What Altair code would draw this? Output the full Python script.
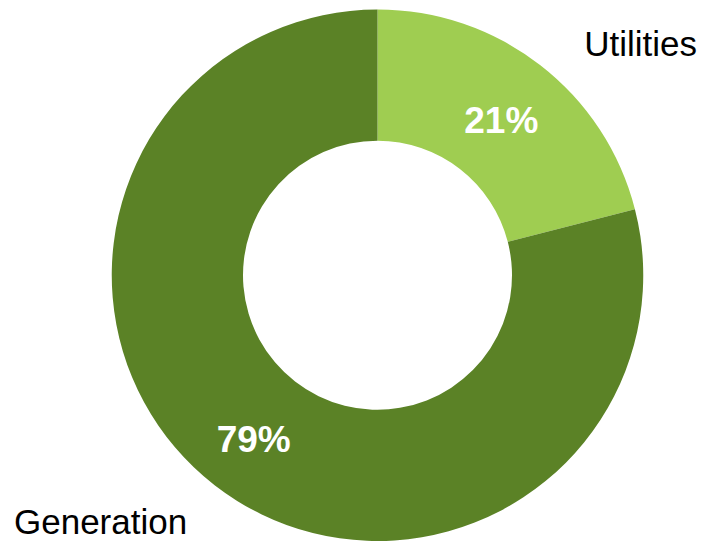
import altair as alt
import pandas as pd

categories = ["Utilities", "Generation"]
shares = [21, 79]
labels = ["21%", "79%"]
orders = [0, 1]
colors = ["#9FCD51", "#5B8226"]

df = pd.DataFrame({"category": categories, "share": shares, "label": labels, "ord": orders})

CX, CY = 369.5, 267.25

base = alt.Chart(df).encode(
    theta=alt.Theta("share:Q", stack=True),
    order=alt.Order("ord:Q"),
    x=alt.value(CX),
    y=alt.value(CY),
)

arcs = base.mark_arc(outerRadius=265.75, innerRadius=134.5).encode(
    color=alt.Color("category:N", scale=alt.Scale(domain=categories, range=colors), legend=None)
)

pct = base.mark_text(radius=202, dy=6, font="Liberation Sans", fontSize=37, fontWeight="bold",
                     color="white", align="center", baseline="middle").encode(
    text="label:N"
)

lab_util = alt.Chart(pd.DataFrame({"t": [categories[0]]})).mark_text(
    font="Liberation Sans", fontSize=35, color="black", align="right", baseline="alphabetic"
).encode(text="t:N", x=alt.value(689), y=alt.value(48))

lab_gen = alt.Chart(pd.DataFrame({"t": [categories[1]]})).mark_text(
    font="Liberation Sans", fontSize=35, color="black", align="left", baseline="alphabetic"
).encode(text="t:N", x=alt.value(6), y=alt.value(525.5))

chart = alt.layer(arcs, pct, lab_util, lab_gen).properties(
    width=692, height=533,
    autosize=alt.AutoSizeParams(type="none"),
    padding=0,
).configure_view(stroke=None)

chart.save("out.html", embed_options={"renderer": "svg", "actions": False})
